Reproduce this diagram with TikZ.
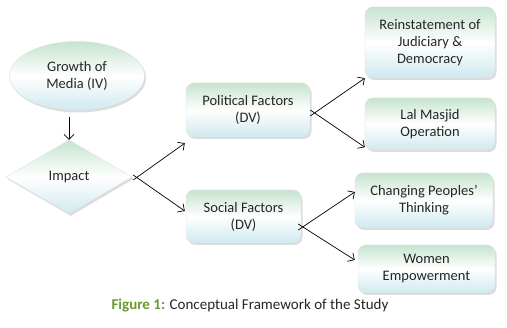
\documentclass[tikz,border=0pt]{standalone}
\usepackage{fontspec}
\setmainfont{Carlito}
\usetikzlibrary{shapes.geometric,shadows,arrows.meta,calc}
\definecolor{topg}{HTML}{C6E4CF}
\definecolor{botb}{HTML}{CFE9EF}
\definecolor{capgreen}{HTML}{6A9A2C}
\tikzset{
  shadefill/.style={top color=topg, bottom color=botb, middle color=white, draw=gray!25, line width=0.4pt,
    drop shadow={shadow xshift=1.5pt, shadow yshift=-2pt, fill=gray!60, opacity=0.45}},
  txt/.style={font=\fontsize{14.5}{17}\selectfont, text=black!85},
  rbox/.style={shadefill, txt, rounded corners=8pt, align=center, inner sep=0pt},
  arr/.style={-{Straight Barb[length=5pt,width=10pt]}, line width=0.7pt, black},
}
\begin{document}
\begin{tikzpicture}[x=1pt,y=-1pt]
\useasboundingbox (0,0) rectangle (507,328);
\fill[white] (0,0) rectangle (507,328);
\node[shadefill, txt, ellipse, minimum width=135pt, minimum height=69pt, inner sep=0pt, align=center] (gm) at (77,76) {Growth of\\Media (IV)};
\node[shadefill, diamond, minimum width=126pt, minimum height=74pt, inner sep=0pt, aspect=1.7] (imp) at (69,177) {};
\node[txt] (impt) at (69,177) {Impact};
\node[rbox, minimum width=124pt, minimum height=54pt] (pol) at (248,110) {Political Factors\\(DV)};
\node[rbox, minimum width=115pt, minimum height=53pt] (soc) at (243.5,216.5) {Social Factors\\(DV)};
\node[rbox, minimum width=130pt, minimum height=71pt] (rei) at (430,42.5) {Reinstatement of\\Judiciary \&\\Democracy};
\node[rbox, minimum width=130pt, minimum height=52pt] (lal) at (430,124) {Lal Masjid\\Operation};
\node[rbox, minimum width=138pt, minimum height=55pt] (chg) at (424,200.5) {Changing Peoples’\\Thinking};
\node[rbox, minimum width=137pt, minimum height=48pt] (wom) at (426.5,269) {Women\\Empowerment};
\node[font=\fontsize{15}{17}\selectfont, text=black!85] (cap) at (250,306) {\textcolor{capgreen}{\textbf{Figure 1:}} Conceptual Framework of the Study};
% connectors
\draw[arr] ($(gm.south -| imp.north)+(0,6)$) -- (imp.north);
\draw[arr] ($(imp.east)+(1,3)$) -- ($(pol.south west)+(-1,6)$);
\draw[arr] ($(imp.east)+(1,-2)$) -- ($(soc.west)+(-1,-5.5)$);
\draw[arr] ($(pol.east)+(0,6)$) -- (rei.south west);
\draw[arr] (pol.east) -- ($(lal.south west)+(0,-3)$);
\draw[arr] ($(soc.east)+(-3,13.5)$) -- ($(chg.west)+(0,-8.5)$);
\draw[arr] ($(soc.east)+(-3,7.5)$) -- ($(wom.west)+(-3,-9)$);
\end{tikzpicture}
\end{document}
